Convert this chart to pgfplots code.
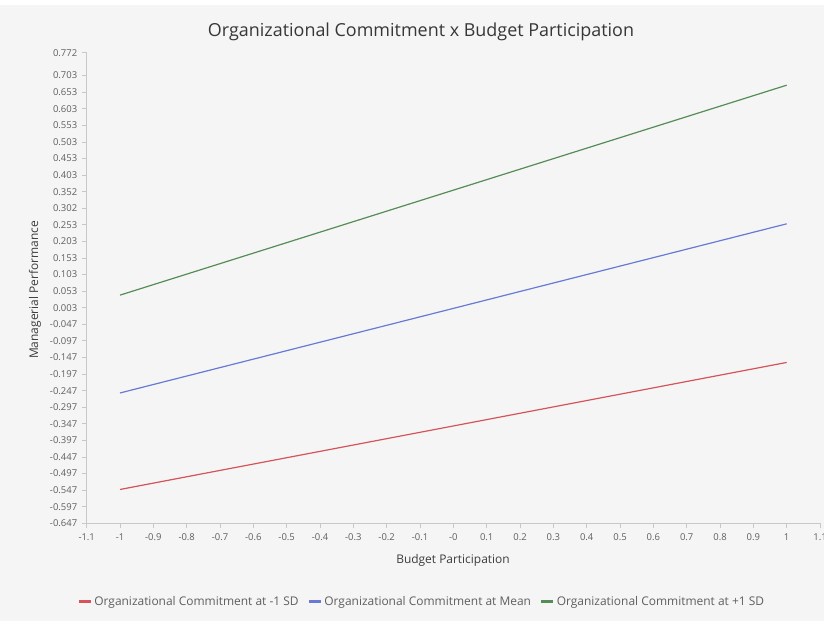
\documentclass[border=0pt]{standalone}
\usepackage{pgfplots}
\pgfplotsset{compat=1.18}
\usepackage{fontspec}
\setmainfont{Open Sans}
\definecolor{bgc}{RGB}{245,245,245}
\definecolor{cred}{RGB}{212,84,90}
\definecolor{cblue}{RGB}{104,122,212}
\definecolor{cgreen}{RGB}{86,140,86}
\definecolor{tickc}{RGB}{95,95,95}
\definecolor{axc}{RGB}{200,200,200}
\begin{document}
\begin{tikzpicture}
\useasboundingbox (0,0) rectangle (824bp,621bp);
\clip (0,0) rectangle (824bp,621bp);
\fill[white] (0,0) rectangle (824bp,621bp);
\fill[bgc] (0,0) rectangle (824bp,616bp);
\begin{axis}[
  at={(86.7bp,97.7bp)}, anchor=south west,
  width=733.3bp, height=470.6bp, scale only axis=true,
  xmin=-1.1, xmax=1.1, ymin=-0.647, ymax=0.772,
  axis x line=bottom, axis y line=left,
  axis line style={-, draw=axc, line width=0.8bp},
  tick align=outside, major tick length=5bp,
  tick style={draw=axc, line width=0.8bp},
  xtick={-1.1,-1,-0.9,-0.8,-0.7,-0.6,-0.5,-0.4,-0.3,-0.2,-0.1,0,0.1,0.2,0.3,0.4,0.5,0.6,0.7,0.8,0.9,1,1.1},
  xticklabels={-1.1,-1,-0.9,-0.8,-0.7,-0.6,-0.5,-0.4,-0.3,-0.2,-0.1,-0,0.1,0.2,0.3,0.4,0.5,0.6,0.7,0.8,0.9,1,1.1},
  ytick={-0.647,-0.597,-0.547,-0.497,-0.447,-0.397,-0.347,-0.297,-0.247,-0.197,-0.147,-0.097,-0.047,0.003,0.053,0.103,0.153,0.203,0.253,0.303,0.353,0.403,0.453,0.503,0.553,0.603,0.653,0.703,0.772},
  yticklabels={-0.647,-0.597,-0.547,-0.497,-0.447,-0.397,-0.347,-0.297,-0.247,-0.197,-0.147,-0.097,-0.047,0.003,0.053,0.103,0.153,0.203,0.253,0.302,0.352,0.403,0.453,0.503,0.553,0.603,0.653,0.703,0.772},
  /pgf/number format/assume math mode=true,
  ticklabel style={font=\fontsize{9.5}{11}\selectfont, text=tickc},
  xticklabel style={yshift=-2bp},
  yticklabel style={xshift=-1bp},
  legend columns=3,
  legend style={at={(0.457,-0.167)}, anchor=center, draw=none, fill=none,
    font=\fontsize{12}{14}\selectfont, text=tickc,
    /tikz/every even column/.append style={column sep=7bp}},
  legend image code/.code={\draw[#1, line width=2.8bp] (0bp,0bp) -- (12bp,0bp);},
  clip=false,
]
\addplot[cred, line width=1.2bp] coordinates {(-1,-0.545) (1,-0.162)};
\addlegendentry{Organizational Commitment at -1 SD}
\addplot[cblue, line width=1.2bp] coordinates {(-1,-0.254) (1,0.256)};
\addlegendentry{Organizational Commitment at Mean}
\addplot[cgreen, line width=1.2bp] coordinates {(-1,0.041) (1,0.674)};
\addlegendentry{Organizational Commitment at +1 SD}
\end{axis}
\node[font=\fontsize{18}{21}\selectfont, text={rgb,255:red,55;green,55;blue,55}] at (421bp,589bp) {Organizational Commitment x Budget Participation};
\node[font=\fontsize{12}{14}\selectfont, text={rgb,255:red,60;green,60;blue,60}] at (453bp,61bp) {Budget Participation};
\node[rotate=90, font=\fontsize{12}{14}\selectfont, text={rgb,255:red,60;green,60;blue,60}] at (35bp,331bp) {Managerial Performance};
\end{tikzpicture}
\end{document}
